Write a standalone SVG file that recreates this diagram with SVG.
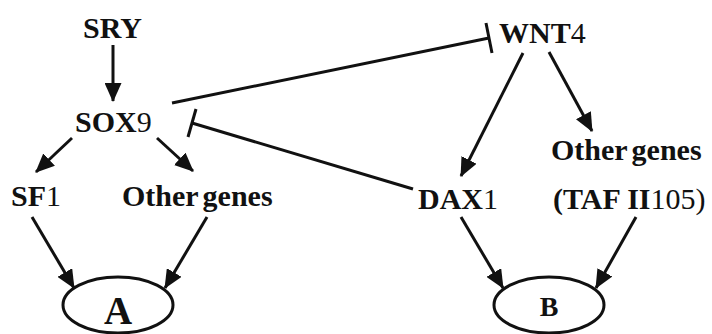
<svg xmlns="http://www.w3.org/2000/svg" width="712" height="334" viewBox="0 0 712 334">
<style>
.t{font-family:"Liberation Serif","Times New Roman",serif;font-size:30px;font-weight:bold;fill:#111}
.r{font-weight:normal}
.c line{stroke:#111;stroke-width:3;fill:none}
.act{marker-end:url(#ah)}
.el{fill:none;stroke:#111;stroke-width:3}
</style>
<defs>
<marker id="ah" markerUnits="userSpaceOnUse" markerWidth="19" markerHeight="17" refX="18" refY="8.5" orient="auto" viewBox="0 0 19 17">
<path d="M0,0 L19,8.5 L0,17 z" fill="#111"/>
</marker>
</defs>
<rect width="712" height="334" fill="#fff"/>
<g class="c" id="connectors">
<line class="act" x1="113" y1="45" x2="113" y2="101"/>
<line class="act" x1="72" y1="138" x2="36" y2="172"/>
<line class="act" x1="157" y1="138" x2="193" y2="171"/>
<line class="act" x1="32" y1="217" x2="74" y2="288"/>
<line class="act" x1="207" y1="217" x2="165" y2="288"/>
<line class="act" x1="523" y1="53" x2="461" y2="176"/>
<line class="act" x1="549" y1="52" x2="592" y2="131"/>
<line class="act" x1="461" y1="217" x2="503" y2="288"/>
<line class="act" x1="636" y1="217" x2="596" y2="288"/>
<line x1="172" y1="103" x2="489" y2="38"/>
<line x1="486" y1="23" x2="492" y2="53"/>
<line x1="413" y1="189" x2="192" y2="123"/>
<line x1="196" y1="109" x2="188" y2="137"/>
</g>
<g id="SRY"><text class="t" x="83" y="38">SRY</text></g>
<g id="SOX9"><text class="t" x="75" y="132">SOX<tspan class="r">9</tspan></text></g>
<g id="WNT4"><text class="t" x="499" y="43">WNT<tspan class="r">4</tspan></text></g>
<g id="SF1"><text class="t" x="11" y="206">SF<tspan class="r">1</tspan></text></g>
<g id="Other1"><text class="t" x="122" y="206" word-spacing="-3">Other genes</text></g>
<g id="Other2"><text class="t" x="551" y="160" word-spacing="-3">Other genes</text></g>
<g id="DAX1"><text class="t" x="418" y="209">DAX<tspan class="r">1</tspan></text></g>
<g id="TAF"><text class="t" x="553" y="209">(TAF II<tspan class="r">105)</tspan></text></g>
<g id="A"><ellipse class="el" cx="118" cy="305" rx="55" ry="28"/><text class="t" x="118" y="324" text-anchor="middle" style="font-size:39px">A</text></g>
<g id="B"><ellipse class="el" cx="549" cy="305" rx="55" ry="28"/><text class="t" x="549" y="316" text-anchor="middle" style="font-size:28px">B</text></g>
</svg>
